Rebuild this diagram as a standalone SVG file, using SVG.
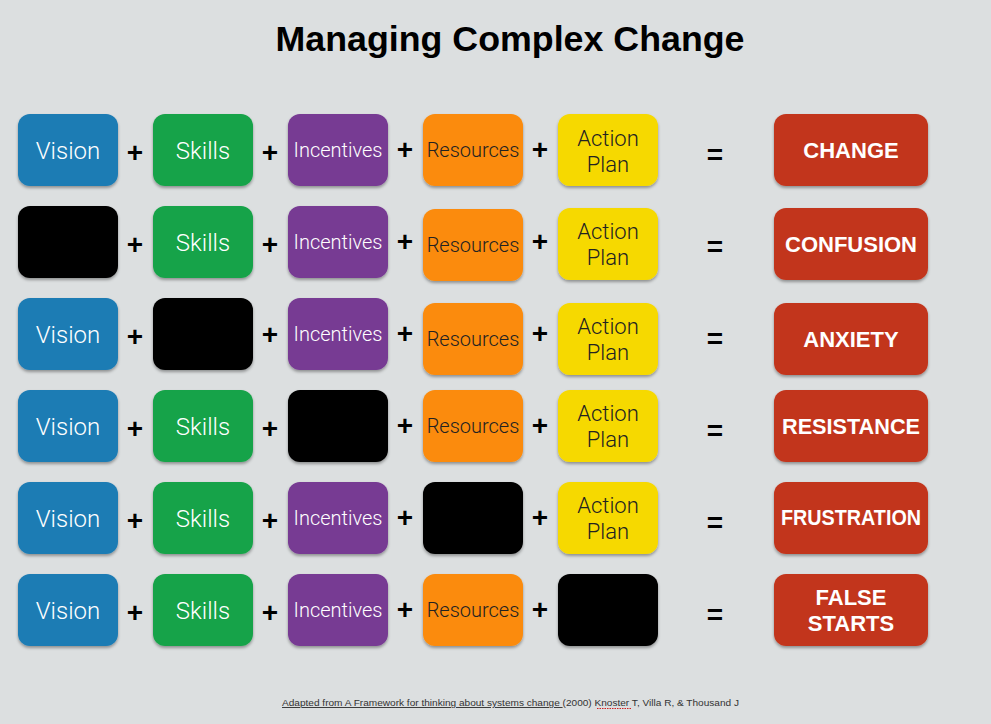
<svg xmlns="http://www.w3.org/2000/svg" width="991" height="724" viewBox="0 0 991 724">
<style>
.b{stroke:none;filter:url(#sh)}
.v{fill:#1b7bb4}.s{fill:#18a349}.i{fill:#773a93}.r{fill:#fb8b0b}.a{fill:#f6d900}.k{fill:#000}.o{fill:#c2361f}
.t{font-family:Roboto,"Liberation Sans",sans-serif;font-weight:300;text-anchor:middle}
.w{fill:#fff}.d{fill:#222}
.op{font-family:"Liberation Sans",Arial,sans-serif;font-weight:bold;font-size:28px;text-anchor:middle;fill:#000}
.res{font-family:"Liberation Sans",Arial,sans-serif;font-weight:bold;font-size:22px;fill:#fff;text-anchor:middle}
</style>
<defs>
<filter id="sh" x="-10%" y="-10%" width="125%" height="130%">
<feDropShadow dx="0" dy="2" stdDeviation="1.5" flood-color="#000" flood-opacity="0.35"/>
</filter>
</defs>
<rect width="991" height="724" fill="#dcdfe0"/>
<text x="510" y="51" font-family="'Liberation Sans',Arial,sans-serif" font-weight="bold" font-size="35" text-anchor="middle" fill="#000" textLength="469" lengthAdjust="spacingAndGlyphs">Managing Complex Change</text>

<g id="row1">
<rect class="b v" x="18" y="114" width="100" height="72" rx="12"/><text class="t w" x="68" y="159" font-size="24">Vision</text>
<rect class="b s" x="153" y="114" width="100" height="72" rx="12"/><text class="t w" x="203" y="159" font-size="24">Skills</text>
<rect class="b i" x="288" y="114" width="100" height="72" rx="12"/><text class="t w" x="338" y="157" font-size="20">Incentives</text>
<rect class="b r" x="423" y="114" width="100" height="72" rx="12"/><text class="t d" x="473" y="157" font-size="20">Resources</text>
<rect class="b a" x="558" y="114" width="100" height="72" rx="12"/><text class="t d" x="608" y="146" font-size="22">Action</text><text class="t d" x="608" y="172" font-size="22">Plan</text>
<rect class="b o" x="774" y="114" width="154" height="72" rx="12"/><text class="res" x="851" y="158">CHANGE</text>
</g>
<g id="row2">
<rect class="b k" x="18" y="206" width="100" height="72" rx="12"/>
<rect class="b s" x="153" y="206" width="100" height="72" rx="12"/><text class="t w" x="203" y="251" font-size="24">Skills</text>
<rect class="b i" x="288" y="206" width="100" height="72" rx="12"/><text class="t w" x="338" y="249" font-size="20">Incentives</text>
<rect class="b r" x="423" y="209" width="100" height="72" rx="12"/><text class="t d" x="473" y="252" font-size="20">Resources</text>
<rect class="b a" x="558" y="208" width="100" height="72" rx="12"/><text class="t d" x="608" y="239" font-size="22">Action</text><text class="t d" x="608" y="265" font-size="22">Plan</text>
<rect class="b o" x="774" y="208" width="154" height="72" rx="12"/><text class="res" x="851" y="252">CONFUSION</text>
</g>
<g id="row3">
<rect class="b v" x="18" y="298" width="100" height="72" rx="12"/><text class="t w" x="68" y="343" font-size="24">Vision</text>
<rect class="b k" x="153" y="298" width="100" height="72" rx="12"/>
<rect class="b i" x="288" y="298" width="100" height="72" rx="12"/><text class="t w" x="338" y="341" font-size="20">Incentives</text>
<rect class="b r" x="423" y="303" width="100" height="72" rx="12"/><text class="t d" x="473" y="346" font-size="20">Resources</text>
<rect class="b a" x="558" y="303" width="100" height="72" rx="12"/><text class="t d" x="608" y="334" font-size="22">Action</text><text class="t d" x="608" y="360" font-size="22">Plan</text>
<rect class="b o" x="774" y="303" width="154" height="72" rx="12"/><text class="res" x="851" y="347">ANXIETY</text>
</g>
<g id="row4">
<rect class="b v" x="18" y="390" width="100" height="72" rx="12"/><text class="t w" x="68" y="435" font-size="24">Vision</text>
<rect class="b s" x="153" y="390" width="100" height="72" rx="12"/><text class="t w" x="203" y="435" font-size="24">Skills</text>
<rect class="b k" x="288" y="390" width="100" height="72" rx="12"/>
<rect class="b r" x="423" y="390" width="100" height="72" rx="12"/><text class="t d" x="473" y="433" font-size="20">Resources</text>
<rect class="b a" x="558" y="390" width="100" height="72" rx="12"/><text class="t d" x="608" y="421" font-size="22">Action</text><text class="t d" x="608" y="447" font-size="22">Plan</text>
<rect class="b o" x="774" y="390" width="154" height="72" rx="12"/><text class="res" x="851" y="434" textLength="138" lengthAdjust="spacingAndGlyphs">RESISTANCE</text>
</g>
<g id="row5">
<rect class="b v" x="18" y="482" width="100" height="72" rx="12"/><text class="t w" x="68" y="527" font-size="24">Vision</text>
<rect class="b s" x="153" y="482" width="100" height="72" rx="12"/><text class="t w" x="203" y="527" font-size="24">Skills</text>
<rect class="b i" x="288" y="482" width="100" height="72" rx="12"/><text class="t w" x="338" y="525" font-size="20">Incentives</text>
<rect class="b k" x="423" y="482" width="100" height="72" rx="12"/>
<rect class="b a" x="558" y="482" width="100" height="72" rx="12"/><text class="t d" x="608" y="513" font-size="22">Action</text><text class="t d" x="608" y="539" font-size="22">Plan</text>
<rect class="b o" x="774" y="482" width="154" height="72" rx="12"/><text class="res" x="851" y="525" font-size="20" textLength="140" lengthAdjust="spacingAndGlyphs">FRUSTRATION</text>
</g>
<g id="row6">
<rect class="b v" x="18" y="574" width="100" height="72" rx="12"/><text class="t w" x="68" y="619" font-size="24">Vision</text>
<rect class="b s" x="153" y="574" width="100" height="72" rx="12"/><text class="t w" x="203" y="619" font-size="24">Skills</text>
<rect class="b i" x="288" y="574" width="100" height="72" rx="12"/><text class="t w" x="338" y="617" font-size="20">Incentives</text>
<rect class="b r" x="423" y="574" width="100" height="72" rx="12"/><text class="t d" x="473" y="617" font-size="20">Resources</text>
<rect class="b k" x="558" y="574" width="100" height="72" rx="12"/>
<rect class="b o" x="774" y="574" width="154" height="72" rx="12"/><text class="res" x="851" y="605">FALSE</text><text class="res" x="851" y="631">STARTS</text>
</g>

<g id="operators">
<text class="op" x="135" y="162">+</text><text class="op" x="270" y="162">+</text><text class="op" x="405" y="159">+</text><text class="op" x="540" y="159">+</text><text class="op" x="715" y="164">=</text>
<text class="op" x="135" y="254">+</text><text class="op" x="270" y="254">+</text><text class="op" x="405" y="251">+</text><text class="op" x="540" y="251">+</text><text class="op" x="715" y="256">=</text>
<text class="op" x="135" y="346">+</text><text class="op" x="270" y="344">+</text><text class="op" x="405" y="343">+</text><text class="op" x="540" y="343">+</text><text class="op" x="715" y="348">=</text>
<text class="op" x="135" y="438">+</text><text class="op" x="270" y="438">+</text><text class="op" x="405" y="435">+</text><text class="op" x="540" y="435">+</text><text class="op" x="715" y="440">=</text>
<text class="op" x="135" y="530">+</text><text class="op" x="270" y="530">+</text><text class="op" x="405" y="527">+</text><text class="op" x="540" y="527">+</text><text class="op" x="715" y="532">=</text>
<text class="op" x="135" y="622">+</text><text class="op" x="270" y="622">+</text><text class="op" x="405" y="619">+</text><text class="op" x="540" y="619">+</text><text class="op" x="715" y="624">=</text>
</g>

<g id="footer" font-family="'Liberation Sans',Arial,sans-serif" font-size="9.5" fill="#333">
<text x="282" y="706" textLength="457" lengthAdjust="spacingAndGlyphs"><tspan text-decoration="underline">Adapted from A Framework for thinking about systems change </tspan>(2000) Knoster T, Villa R, &amp; Thousand J</text>
<line x1="597" y1="708.5" x2="631" y2="708.5" stroke="#d02020" stroke-width="1.2" stroke-dasharray="1.5,1"/>
</g>
</svg>
